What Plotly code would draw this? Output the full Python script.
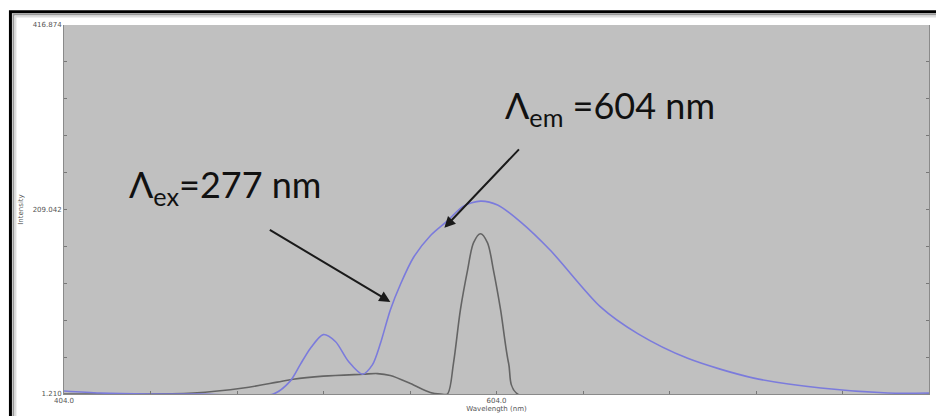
import plotly.graph_objects as go

# Spectrum data (wavelength in nm, intensity in a.u.)
blue_wl = [404.0, 420.7, 443.8, 467.0, 500.8, 508.6, 513.3, 517.9, 523.9, 529.5,
           535.5, 542.0, 546.6, 550.3, 554.9, 559.6, 565.6, 573.4, 581.3, 588.7,
           596.6, 604.5, 615.1, 629.0, 652.1, 669.3, 692.4, 723.0, 754.0, 785.0, 804.0]
blue_int = [4.6, 2.3, 1.2, 1.2, 1.2, 15.7, 34.6, 52.5, 68.1, 60.3,
            38.0, 23.5, 34.0, 58.0, 95.9, 124.9, 155.0, 179.5, 196.2, 212.9,
            218.5, 214.1, 195.1, 162.8, 99.3, 69.2, 41.4, 19.1, 7.9, 2.3, 2.3]

gray_wl = [404.0, 429.9, 463.7, 486.9, 502.6, 510.0, 523.9, 542.4, 548.9, 554.9,
           564.2, 573.4, 578.1, 581.3, 584.1, 587.3, 590.6, 593.4, 596.6, 599.8,
           602.6, 605.9, 609.6, 613.7, 804.0]
gray_int = [1.2, 1.2, 2.3, 7.9, 14.6, 17.9, 21.3, 23.5, 24.2, 22.0,
            13.0, 3.0, 1.2, 1.2, 35.8, 95.9, 140.5, 171.7, 181.7, 171.7,
            140.5, 95.9, 35.8, 1.2, 1.2]

x_ticks = [404.0, 604.0, 804.0]
x_ticktext = ["404.0", "604.0", "804.0"]
y_ticks = [1.21, 209.042, 416.874]
y_ticktext = ["1.210", "209.042", "416.874"]

fig = go.Figure()
fig.add_trace(go.Scatter(x=gray_wl, y=gray_int, mode="lines",
                         line=dict(color="#646464", width=1.6, shape="spline", smoothing=0.9),
                         showlegend=False, hoverinfo="skip"))
fig.add_trace(go.Scatter(x=blue_wl, y=blue_int, mode="lines",
                         line=dict(color="#7b7bdc", width=1.6, shape="spline", smoothing=0.8),
                         showlegend=False, hoverinfo="skip"))

tickfont = dict(family="DejaVu Sans", size=7, color="#555555")

fig.update_xaxes(range=[404, 804], tickvals=x_ticks, ticktext=x_ticktext,
                 showgrid=False, zeroline=False, showline=True, linecolor="#8a8a8a",
                 ticks="inside", ticklen=3, tickcolor="#777777", tickfont=tickfont,
                 minor=dict(tick0=404, dtick=40, ticks="inside", ticklen=3, tickcolor="#777777"),
                 title=dict(text="Wavelength (nm)", font=tickfont, standoff=0))
fig.update_yaxes(range=[1.21, 416.874], tickvals=y_ticks, ticktext=y_ticktext,
                 showgrid=False, zeroline=False, showline=True, linecolor="#8a8a8a",
                 mirror="ticks",
                 ticks="inside", ticklen=3, tickcolor="#777777", tickfont=tickfont,
                 minor=dict(tick0=1.21, dtick=41.5664, ticks="inside", ticklen=3, tickcolor="#777777"),
                 title=dict(text="Intensity", font=tickfont, standoff=8))

label_font = dict(family="Lato", size=36, color="#111111")
fig.add_annotation(xref="paper", yref="paper", x=(127 - 64) / 864, y=(398 - 188) / 373,
                   xanchor="left", yanchor="middle", showarrow=False,
                   text="Λ<sub>ex</sub>=277 nm", font=label_font)
fig.add_annotation(xref="paper", yref="paper", x=(502 - 64) / 864, y=(398 - 108) / 373,
                   xanchor="left", yanchor="middle", showarrow=False,
                   text="Λ<sub>em</sub> =604 nm", font=label_font)

# arrows pointing at the excitation / emission curve
fig.add_annotation(x=554.9, y=104.9, xref="x", yref="y", ax=-122, ay=-73,
                   text="", showarrow=True, arrowhead=2, arrowsize=1.1,
                   arrowwidth=2, arrowcolor="#1a1a1a")
fig.add_annotation(x=579.9, y=188.4, xref="x", yref="y", ax=76, ay=-80,
                   text="", showarrow=True, arrowhead=2, arrowsize=1.1,
                   arrowwidth=2, arrowcolor="#1a1a1a")

# window frame around the chart
def px_x(p):
    return (p - 64) / 864

def px_y(p):
    return (398 - p) / 373

fig.add_shape(type="rect", xref="paper", yref="paper",
              x0=px_x(10.5), x1=px_x(1000), y0=px_y(1000), y1=px_y(11.5),
              line=dict(color="#000000", width=3), fillcolor="rgba(0,0,0,0)", layer="above")
fig.add_shape(type="rect", xref="paper", yref="paper",
              x0=px_x(13.5), x1=px_x(1000), y0=px_y(1000), y1=px_y(14.5),
              line=dict(color="#9a9a9a", width=2), fillcolor="rgba(0,0,0,0)", layer="above")
fig.add_shape(type="rect", xref="paper", yref="paper",
              x0=px_x(15.5), x1=px_x(1000), y0=px_y(1000), y1=px_y(16.5),
              line=dict(color="#dddddd", width=2), fillcolor="rgba(0,0,0,0)", layer="above")

fig.update_layout(width=936, height=416,
                  margin=dict(l=64, r=6, t=25, b=18),
                  plot_bgcolor="#c0c0c0", paper_bgcolor="#ffffff",
                  showlegend=False)

fig.write_html("out.html")
